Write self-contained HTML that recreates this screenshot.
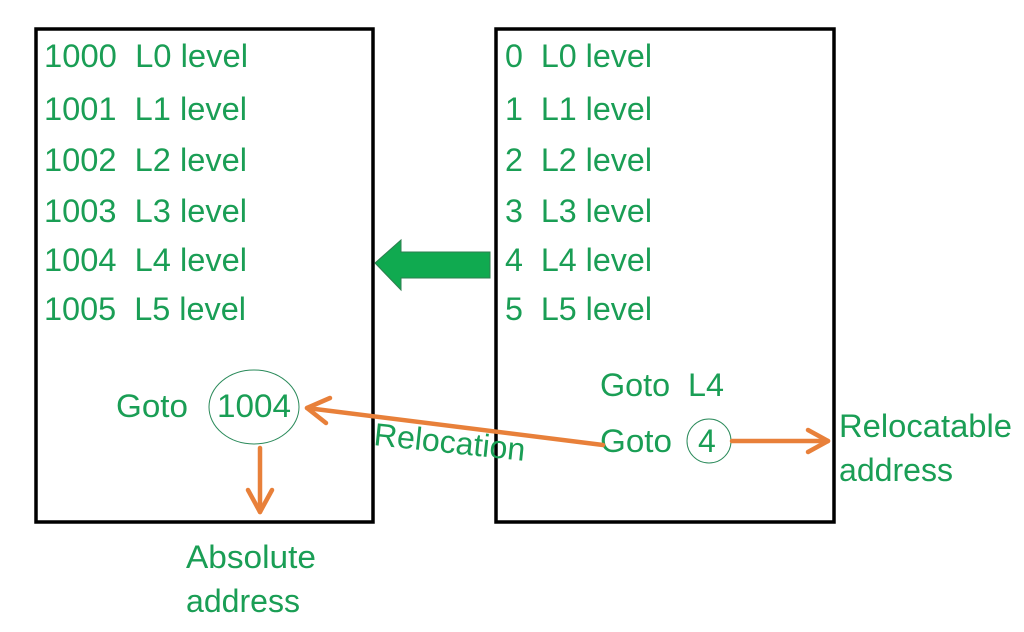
<!DOCTYPE html>
<html><head><style>body{margin:0;background:#fff}svg{display:block}text{white-space:pre}</style></head>
<body>
<svg width="1024" height="632" viewBox="0 0 1024 632" xmlns="http://www.w3.org/2000/svg" font-family="Liberation Sans, sans-serif" fill="#1a9e55" font-size="32">
<rect x="36" y="29" width="337" height="493" fill="none" stroke="#000" stroke-width="3.5"/>
<rect x="496" y="29" width="338" height="493" fill="none" stroke="#000" stroke-width="3.5"/>
<text x="44" y="67" textLength="204" lengthAdjust="spacingAndGlyphs">1000  L0 level</text>
<text x="44" y="120" textLength="203" lengthAdjust="spacingAndGlyphs">1001  L1 level</text>
<text x="44" y="171" textLength="203" lengthAdjust="spacingAndGlyphs">1002  L2 level</text>
<text x="44" y="222" textLength="203" lengthAdjust="spacingAndGlyphs">1003  L3 level</text>
<text x="44" y="271" textLength="203" lengthAdjust="spacingAndGlyphs">1004  L4 level</text>
<text x="44" y="320" textLength="202" lengthAdjust="spacingAndGlyphs">1005  L5 level</text>
<text x="505" y="67" textLength="147" lengthAdjust="spacingAndGlyphs">0  L0 level</text>
<text x="505" y="120" textLength="147" lengthAdjust="spacingAndGlyphs">1  L1 level</text>
<text x="505" y="171" textLength="147" lengthAdjust="spacingAndGlyphs">2  L2 level</text>
<text x="505" y="222" textLength="147" lengthAdjust="spacingAndGlyphs">3  L3 level</text>
<text x="505" y="271" textLength="147" lengthAdjust="spacingAndGlyphs">4  L4 level</text>
<text x="505" y="320" textLength="147" lengthAdjust="spacingAndGlyphs">5  L5 level</text>
<text x="600" y="396" textLength="124" lengthAdjust="spacingAndGlyphs">Goto  L4</text>
<text x="600" y="452" textLength="72" lengthAdjust="spacingAndGlyphs">Goto</text>
<text x="116" y="417" textLength="72" lengthAdjust="spacingAndGlyphs">Goto</text>
<text x="217" y="417" textLength="74" lengthAdjust="spacingAndGlyphs">1004</text>
<text x="698" y="452">4</text>
<text x="839" y="437" textLength="173" lengthAdjust="spacingAndGlyphs">Relocatable</text>
<text x="839" y="481" textLength="114" lengthAdjust="spacingAndGlyphs">address</text>
<text x="186" y="568" textLength="130" lengthAdjust="spacingAndGlyphs">Absolute</text>
<text x="186" y="612" textLength="114" lengthAdjust="spacingAndGlyphs">address</text>
<text x="373" y="445" transform="rotate(6 373 445)" textLength="152" lengthAdjust="spacingAndGlyphs">Relocation</text>
<ellipse cx="254" cy="407" rx="45" ry="37" fill="none" stroke="#2a8a5a" stroke-width="1"/>
<circle cx="709" cy="441" r="22" fill="none" stroke="#2a8a5a" stroke-width="1"/>
<polygon points="375,263 401,240 401,252 490,252 490,278 401,278 401,290" fill="#10aa50" stroke="#2e7d4f" stroke-width="1"/>
<g stroke="#e8803a" stroke-width="4.5" fill="none" stroke-linecap="round" stroke-linejoin="round">
<line x1="603" y1="445" x2="307" y2="408"/>
<polyline points="330,398 307,408 326,423"/>
<line x1="732" y1="441" x2="828" y2="441"/>
<polyline points="808,430 828,441 808,452"/>
<line x1="260" y1="448" x2="260" y2="512"/>
<polyline points="248,490 260,512 272,490"/>
</g>
</svg>
</body></html>
